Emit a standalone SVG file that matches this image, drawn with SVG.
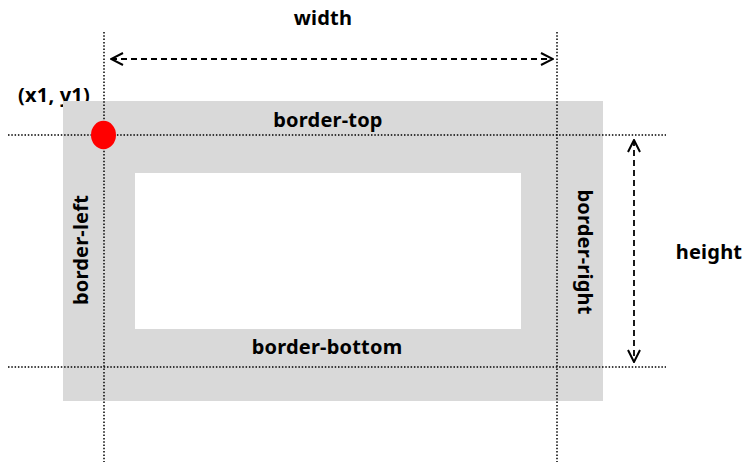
<svg xmlns="http://www.w3.org/2000/svg" width="747" height="462" viewBox="0 0 747 462">
  <style>
    .lbl { font-family: "Noto Sans", "Open Sans", "Liberation Sans", sans-serif; font-weight: bold; font-size: 20px; letter-spacing: 0.2px; fill: #000; }
    .guide { stroke: #000; stroke-width: 1.5; stroke-dasharray: 1.5 1.8; fill: none; }
    .dim { stroke: #000; stroke-width: 1.8; stroke-dasharray: 6 4; fill: none; }
  </style>
  <defs>
    <marker id="open-arrow" viewBox="0 0 14 14" refX="13" refY="7" markerWidth="14" markerHeight="14" markerUnits="userSpaceOnUse" orient="auto-start-reverse">
      <path d="M1,1 L13,7 L1,13" fill="none" stroke="#000" stroke-width="2"/>
    </marker>
  </defs>
  <rect width="747" height="462" fill="#fff"/>

  <!-- corner coordinate label sits beneath the border fill -->
  <g id="corner-label">
    <text class="lbl" x="54" y="102" text-anchor="middle">(x1, y1)</text>
  </g>

  <!-- element box: border area with the content area cut out -->
  <g id="box">
    <rect x="63" y="101" width="540" height="300" fill="#d9d9d9"/>
    <rect x="135" y="173" width="386" height="156" fill="#fff"/>
  </g>

  <g id="border-labels">
    <text class="lbl" x="328" y="127" text-anchor="middle">border-top</text>
    <text class="lbl" x="327" y="354" text-anchor="middle">border-bottom</text>
    <text class="lbl" text-anchor="middle" transform="translate(88,250) rotate(-90)">border-left</text>
    <text class="lbl" text-anchor="middle" transform="translate(578,252) rotate(90)">border-right</text>
  </g>

  <g id="dimension-labels">
    <text class="lbl" x="323" y="25" text-anchor="middle">width</text>
    <text class="lbl" x="709" y="259" text-anchor="middle">height</text>
  </g>

  <g id="connectors">
    <!-- guide lines -->
    <line class="guide" x1="104" y1="32" x2="104" y2="462"/>
    <line class="guide" x1="557" y1="32" x2="557" y2="462"/>
    <line class="guide" x1="8" y1="135" x2="666" y2="135"/>
    <line class="guide" x1="8" y1="367" x2="666" y2="367"/>
    <!-- dimension arrows -->
    <line class="dim" x1="111" y1="59" x2="553" y2="59" marker-start="url(#open-arrow)" marker-end="url(#open-arrow)"/>
    <line class="dim" x1="634" y1="140" x2="634" y2="362" marker-start="url(#open-arrow)" marker-end="url(#open-arrow)"/>
  </g>

  <g id="origin-point">
    <ellipse cx="103.5" cy="135" rx="12.5" ry="14.2" fill="#ff0000"/>
  </g>
</svg>
